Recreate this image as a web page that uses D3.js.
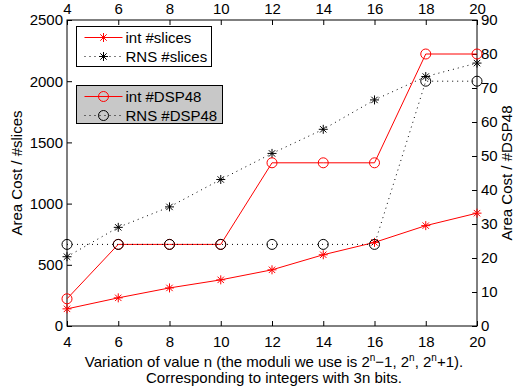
<!DOCTYPE html>
<html><head><meta charset="utf-8">
<script src="https://cdn.jsdelivr.net/npm/d3@7"></script>
<style>body{margin:0;background:#fff}svg{display:block}text{font-family:"Liberation Sans",Arial,sans-serif;}</style>
</head><body>
<svg id="c" width="514" height="391"></svg>
<script>
const nValues = [4, 6, 8, 10, 12, 14, 16, 18, 20];
const intSlices = [140, 230, 311, 377, 459, 582, 683, 820, 922];
const rnsSlices = [566, 806, 973, 1197, 1410, 1607, 1847, 2038, 2148];
const intDSP = [8, 24, 24, 24, 48, 48, 48, 80, 80];
const rnsDSP = [24, 24, 24, 24, 24, 24, 24, 72, 72];
const xTicks = [4, 6, 8, 10, 12, 14, 16, 18, 20];
const leftTicks = [0, 500, 1000, 1500, 2000, 2500];
const rightTicks = [0, 10, 20, 30, 40, 50, 60, 70, 80, 90];

const svg = d3.select("#c");
const L = 67, R = 477, T = 20, B = 326;
const x = d3.scaleLinear().domain([4, 20]).range([L, R]);
const yL = d3.scaleLinear().domain([0, 2500]).range([B, T]);
const yR = d3.scaleLinear().domain([0, 90]).range([B, T]);
const fs = 15;

svg.append("rect").attr("x", L).attr("y", T).attr("width", R - L).attr("height", B - T)
  .attr("fill", "none").attr("stroke", "#000").attr("stroke-width", 1);

function styleAxis(g) {
  g.select(".domain").remove();
  g.selectAll("line").attr("stroke", "#000");
  g.selectAll("text").attr("font-size", fs).attr("fill", "#000");
}
svg.append("g").attr("transform", `translate(0,${B})`)
  .call(d3.axisBottom(x).tickValues(xTicks).tickSize(-5).tickPadding(10).tickFormat(d3.format("d"))).call(styleAxis);
svg.append("g").attr("transform", `translate(0,${T})`)
  .call(d3.axisTop(x).tickValues(xTicks).tickSize(-5).tickPadding(6).tickFormat(d3.format("d"))).call(styleAxis);
svg.append("g").attr("transform", `translate(${L},0)`)
  .call(d3.axisLeft(yL).tickValues(leftTicks).tickSize(-5).tickPadding(4).tickFormat(d3.format("d"))).call(styleAxis);
svg.append("g").attr("transform", `translate(${R},0)`)
  .call(d3.axisRight(yR).tickValues(rightTicks).tickSize(-5).tickPadding(4).tickFormat(d3.format("d"))).call(styleAxis);

svg.append("text").attr("transform", `translate(22,${(T + B) / 2}) rotate(-90)`)
  .attr("text-anchor", "middle").attr("font-size", fs).text("Area Cost / #slices");
svg.append("text").attr("transform", `translate(512,${(T + B) / 2}) rotate(-90)`)
  .attr("text-anchor", "middle").attr("font-size", fs).text("Area Cost / #DSP48");

const xl = svg.append("text").attr("x", (L + R) / 2 + 2).attr("y", 367).attr("text-anchor", "middle").attr("font-size", fs);
xl.append("tspan").text("Variation of value n (the moduli we use is 2");
xl.append("tspan").attr("dy", -6).attr("font-size", 10).text("n");
xl.append("tspan").attr("dy", 6).text("\u22121, 2");
xl.append("tspan").attr("dy", -6).attr("font-size", 10).text("n");
xl.append("tspan").attr("dy", 6).text(", 2");
xl.append("tspan").attr("dy", -6).attr("font-size", 10).text("n");
xl.append("tspan").attr("dy", 6).text("+1).");
svg.append("text").attr("x", (L + R) / 2 + 2).attr("y", 383).attr("text-anchor", "middle").attr("font-size", fs)
  .text("Corresponding to integers with 3n bits.");

const starPath = "M-4.5,0H4.5M0,-4.5V4.5M-3.2,-3.2L3.2,3.2M-3.2,3.2L3.2,-3.2";

function drawSeries(vals, yScale, color, dotted, marker) {
  const line = d3.line().x((d, i) => x(nValues[i])).y(d => yScale(d));
  svg.append("path").datum(vals).attr("d", line).attr("fill", "none")
    .attr("stroke", color).attr("stroke-width", 1)
    .attr("stroke-dasharray", dotted ? "1,4" : null);
  const g = svg.append("g");
  vals.forEach((v, i) => {
    if (marker === "star") {
      g.append("path").attr("transform", `translate(${x(nValues[i])},${yScale(v)})`)
        .attr("d", starPath).attr("stroke", color).attr("stroke-width", 1).attr("fill", "none");
    } else {
      g.append("circle").attr("cx", x(nValues[i])).attr("cy", yScale(v)).attr("r", 5)
        .attr("fill", "none").attr("stroke", color).attr("stroke-width", 1);
    }
  });
}
drawSeries(intSlices, yL, "#ff0000", false, "star");
drawSeries(rnsSlices, yL, "#000", true, "star");
drawSeries(intDSP, yR, "#ff0000", false, "circle");
drawSeries(rnsDSP, yR, "#000", true, "circle");

function legend(x0, y0, w, h, fill, items) {
  svg.append("rect").attr("x", x0).attr("y", y0).attr("width", w).attr("height", h)
    .attr("fill", fill).attr("stroke", "#000").attr("stroke-width", 1);
  items.forEach((it, i) => {
    const cy = y0 + 11 + i * 19;
    svg.append("line").attr("x1", x0 + 8).attr("x2", x0 + 46).attr("y1", cy).attr("y2", cy)
      .attr("stroke", it.color).attr("stroke-width", 1).attr("stroke-dasharray", it.dotted ? "1,4" : null);
    if (it.marker === "star") {
      svg.append("path").attr("transform", `translate(${x0 + 27},${cy})`).attr("d", starPath)
        .attr("stroke", it.color).attr("fill", "none");
    } else {
      svg.append("circle").attr("cx", x0 + 27).attr("cy", cy).attr("r", 5)
        .attr("stroke", it.color).attr("fill", "none");
    }
    svg.append("text").attr("x", x0 + 49).attr("y", cy + 5).attr("font-size", fs).text(it.label);
  });
}
legend(76.5, 26.5, 135, 40, "#fff", [
  {label: "int #slices", color: "#ff0000", dotted: false, marker: "star"},
  {label: "RNS #slices", color: "#000", dotted: true, marker: "star"}]);
legend(76.5, 85.5, 146, 38, "#c8c8c8", [
  {label: "int #DSP48", color: "#ff0000", dotted: false, marker: "circle"},
  {label: "RNS #DSP48", color: "#000", dotted: true, marker: "circle"}]);
</script>
</body></html>
